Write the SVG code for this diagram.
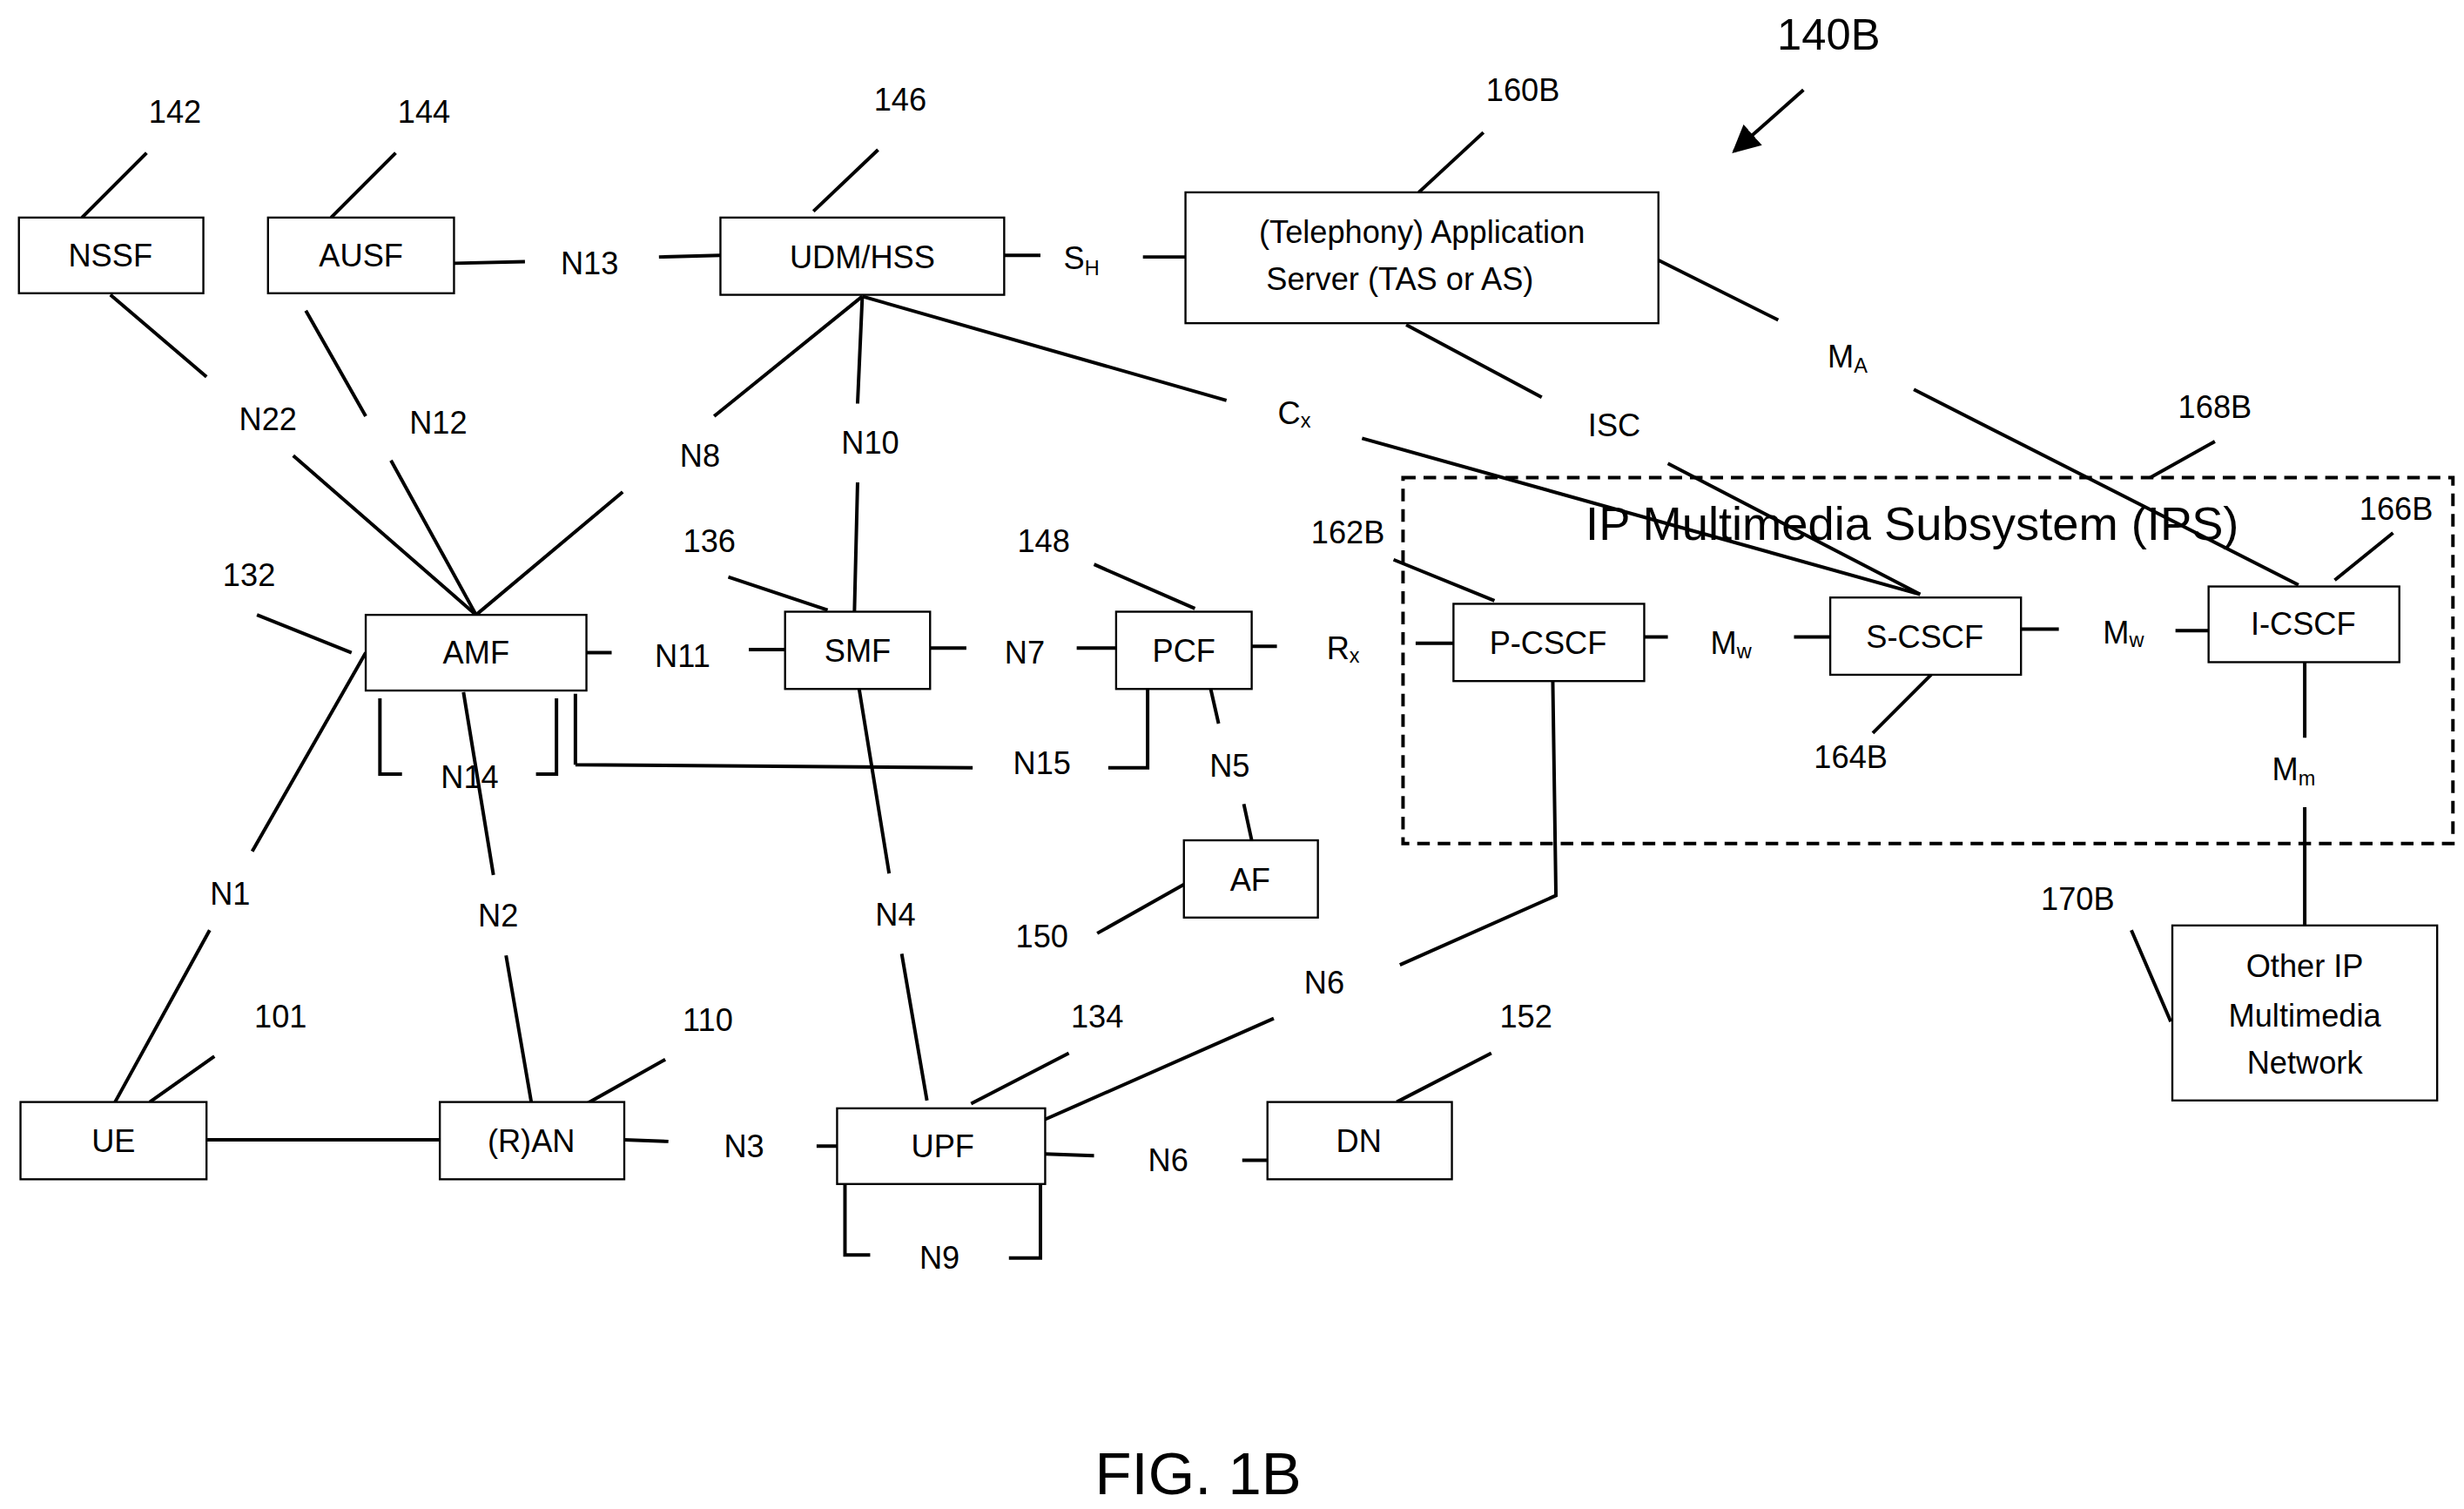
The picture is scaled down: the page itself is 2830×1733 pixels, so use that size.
<svg xmlns="http://www.w3.org/2000/svg" width="2830" height="1733" viewBox="0 0 2830 1733">
<defs>
<style>
.b{fill:#fff;stroke:#000;stroke-width:1.3}
.l{stroke:#000;stroke-width:2.2;fill:none}
.d{stroke:#000;stroke-width:2.2;fill:none;stroke-dasharray:8,5}
text{font-family:"Liberation Sans Narrow","Liberation Sans",Arial,sans-serif;font-size:20px;text-anchor:middle;dominant-baseline:central;fill:#000}
.s{font-size:13px}
</style>
<marker id="ah" viewBox="0 0 10 10" refX="9" refY="5" markerWidth="8" markerHeight="8" orient="auto"><path d="M0,0L10,5L0,10z" fill="#000"/></marker>
</defs>
<rect width="2830" height="1733" fill="#fff"/>
<g transform="scale(1.8106)">
<g id="connectors">
<path class="l" d="M288,167L333,166M418,163L457,162"/>
<path class="l" d="M637,162L660,162M725,163L752,163"/>
<path class="l" d="M70,187L131,239M186,289L302,390"/>
<path class="l" d="M194,197L232,264M248,292L302,390"/>
<path class="l" d="M547,188L453,264M395,312L302,390"/>
<path class="l" d="M547,188L544,256M544,306L542,388"/>
<path class="l" d="M547,188L778,254M864,278L1218,377"/>
<path class="l" d="M892,206L978,252M1058,294L1218,377"/>
<path class="l" d="M1050,164L1128,203M1214,247L1458,371"/>
<path class="l" d="M794,410L810,410M898,408L922,408"/>
<path class="l" d="M1043,404L1058,404M1138,404L1161,404"/>
<path class="l" d="M1282,399L1306,399M1380,400L1401,400"/>
<path class="l" d="M1462,420L1462,468M1462,512L1462,587"/>
<path class="l" d="M985,432L987,568L888,612M808,646L663,710"/>
<path class="l" d="M372,414L388,414M475,412L498,412"/>
<path class="l" d="M590,411L613,411M683,411L708,411"/>
<path class="l" d="M768,437L773,459M789,510L794,533"/>
<path class="l" d="M241,443L241,491L255,491M340,491L353,491L353,443"/>
<path class="l" d="M365,440L365,485M365,485L617,487M703,487L728,487L728,437"/>
<path class="l" d="M294,439L313,555M321,606L337,699"/>
<path class="l" d="M232,414L160,540M133,590L73,699"/>
<path class="l" d="M545,437L564,554M572,605L588,698"/>
<path class="l" d="M131,723L279,723"/>
<path class="l" d="M396,723L424,724M518,727L531,727"/>
<path class="l" d="M663,732L694,733M788,736L804,736"/>
<path class="l" d="M536,751L536,796L552,796M640,798L660,798L660,751"/>
<path class="l" d="M52,138L93,97M210,138L251,97M516,134L557,95M900,122L941,84M1364,303L1405,280M1481,368L1518,338M884,355L948,381M1225,428L1188,465M462,366L525,387M694,358L758,386M163,390L223,414M95,699L136,670M367,703L422,672M616,700L678,668M886,699L946,668M696,592L751,561M1352,590L1377,648"/>
<path class="l" d="M1144,57L1100,96" marker-end="url(#ah)"/>
</g>
<rect id="ims" class="d" x="890" y="303" width="666" height="232"/>
<text x="1213" y="332" style="font-size:30px">IP Multimedia Subsystem (IPS)</text>
<g id="nssf"><rect class="b" x="12" y="138" width="117" height="48"/><text x="70" y="162">NSSF</text></g>
<g id="ausf"><rect class="b" x="170" y="138" width="118" height="48"/><text x="229" y="162">AUSF</text></g>
<g id="udm"><rect class="b" x="457" y="138" width="180" height="49"/><text x="547" y="163">UDM/HSS</text></g>
<g id="tas"><rect class="b" x="752" y="122" width="300" height="83"/><text x="902" y="147">(Telephony) Application</text><text x="888" y="177">Server (TAS or AS)</text></g>
<g id="amf"><rect class="b" x="232" y="390" width="140" height="48"/><text x="302" y="414">AMF</text></g>
<g id="smf"><rect class="b" x="498" y="388" width="92" height="49"/><text x="544" y="413">SMF</text></g>
<g id="pcf"><rect class="b" x="708" y="388" width="86" height="49"/><text x="751" y="413">PCF</text></g>
<g id="pcscf"><rect class="b" x="922" y="383" width="121" height="49"/><text x="982" y="408">P-CSCF</text></g>
<g id="scscf"><rect class="b" x="1161" y="379" width="121" height="49"/><text x="1221" y="404">S-CSCF</text></g>
<g id="icscf"><rect class="b" x="1401" y="372" width="121" height="48"/><text x="1461" y="396">I-CSCF</text></g>
<g id="af"><rect class="b" x="751" y="533" width="85" height="49"/><text x="793" y="558">AF</text></g>
<g id="ue"><rect class="b" x="13" y="699" width="118" height="49"/><text x="72" y="724">UE</text></g>
<g id="ran"><rect class="b" x="279" y="699" width="117" height="49"/><text x="337" y="724">(R)AN</text></g>
<g id="upf"><rect class="b" x="531" y="703" width="132" height="48"/><text x="598" y="727">UPF</text></g>
<g id="dn"><rect class="b" x="804" y="699" width="117" height="49"/><text x="862" y="724">DN</text></g>
<g id="other"><rect class="b" x="1378" y="587" width="168" height="111"/><text x="1462" y="613">Other IP</text><text x="1462" y="644">Multimedia</text><text x="1462" y="674">Network</text></g>
<g id="labels">
<text x="374" y="167">N13</text>
<text x="686" y="164">S<tspan class="s" dy="6">H</tspan></text>
<text x="170" y="266">N22</text>
<text x="278" y="268">N12</text>
<text x="444" y="289">N8</text>
<text x="552" y="281">N10</text>
<text x="821" y="262">C<tspan class="s" dy="5">x</tspan></text>
<text x="1024" y="270">ISC</text>
<text x="1172" y="226">M<tspan class="s" dy="6">A</tspan></text>
<text x="852" y="411">R<tspan class="s" dy="5">x</tspan></text>
<text x="1098" y="408">M<tspan class="s" dy="5">w</tspan></text>
<text x="1347" y="401">M<tspan class="s" dy="5">w</tspan></text>
<text x="1455" y="488">M<tspan class="s" dy="6">m</tspan></text>
<text x="840" y="623">N6</text>
<text x="433" y="416">N11</text>
<text x="650" y="414">N7</text>
<text x="780" y="486">N5</text>
<text x="298" y="493">N14</text>
<text x="661" y="484">N15</text>
<text x="316" y="581">N2</text>
<text x="146" y="567">N1</text>
<text x="568" y="580">N4</text>
<text x="472" y="727">N3</text>
<text x="741" y="736">N6</text>
<text x="596" y="798">N9</text>
<text x="111" y="71">142</text>
<text x="269" y="71">144</text>
<text x="571" y="63">146</text>
<text x="966" y="57">160B</text>
<text x="1160" y="22" style="font-size:28px">140B</text>
<text x="1405" y="258">168B</text>
<text x="1520" y="323">166B</text>
<text x="855" y="338">162B</text>
<text x="1174" y="480">164B</text>
<text x="450" y="343">136</text>
<text x="662" y="343">148</text>
<text x="158" y="365">132</text>
<text x="178" y="645">101</text>
<text x="449" y="647">110</text>
<text x="696" y="645">134</text>
<text x="968" y="645">152</text>
<text x="661" y="594">150</text>
<text x="1318" y="570">170B</text>
<text x="760" y="935" style="font-size:38px">FIG. 1B</text>
</g>
</g>
</svg>
